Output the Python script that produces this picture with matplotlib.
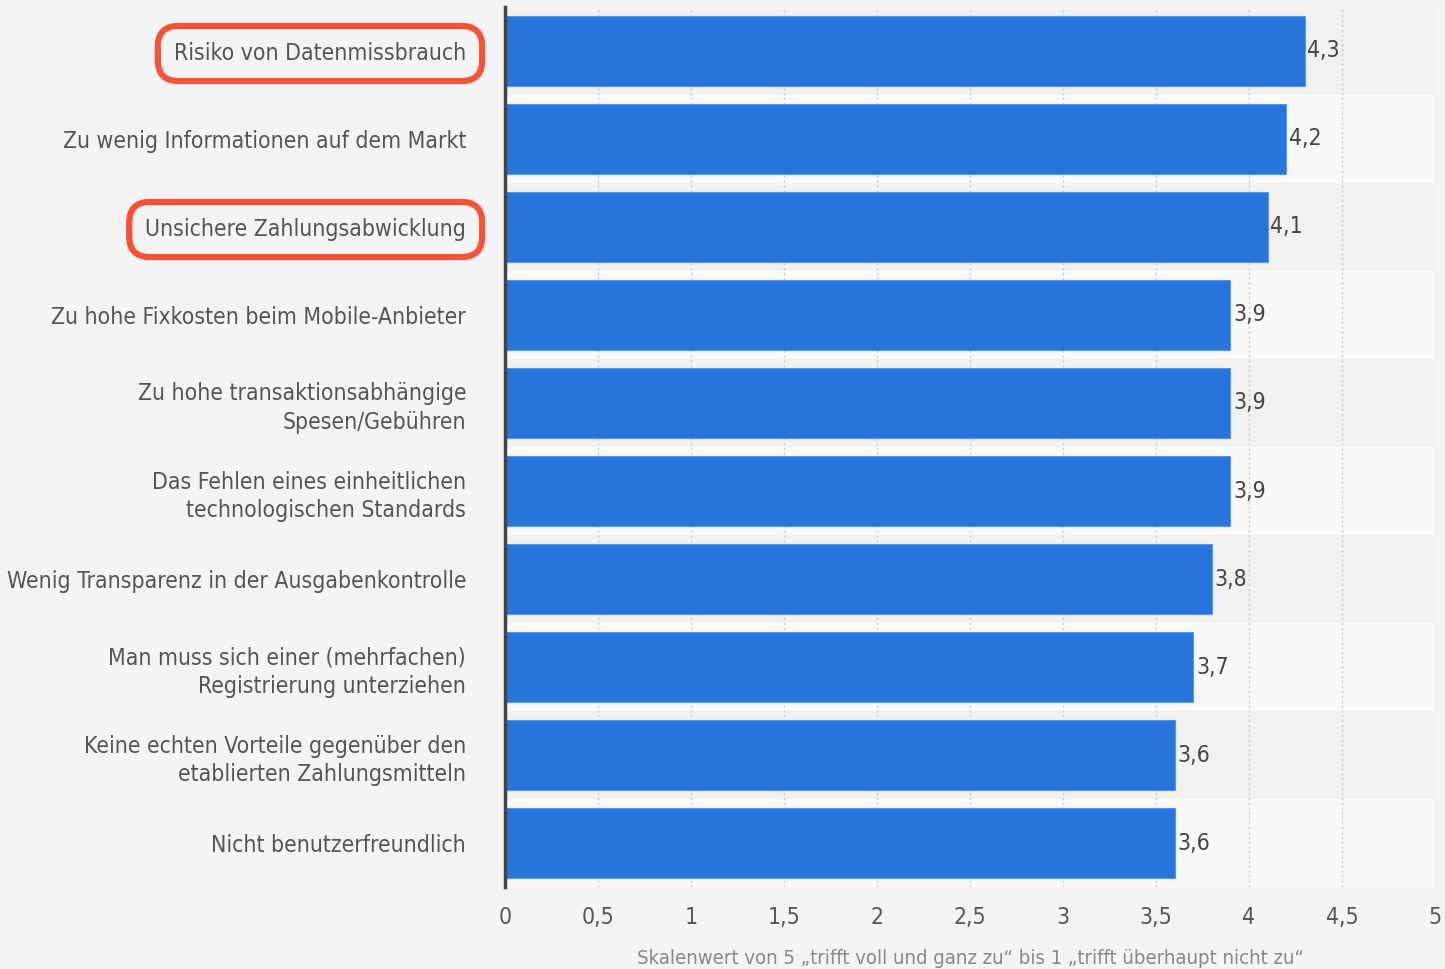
import matplotlib
matplotlib.use("Agg")
import matplotlib.pyplot as plt
import numpy as np

# data
categories = [
    "Risiko von Datenmissbrauch",
    "Zu wenig Informationen auf dem Markt",
    "Unsichere Zahlungsabwicklung",
    "Zu hohe Fixkosten beim Mobile-Anbieter",
    "Zu hohe transaktionsabhängige\nSpesen/Gebühren",
    "Das Fehlen eines einheitlichen\ntechnologischen Standards",
    "Wenig Transparenz in der Ausgabenkontrolle",
    "Man muss sich einer (mehrfachen)\nRegistrierung unterziehen",
    "Keine echten Vorteile gegenüber den\netablierten Zahlungsmitteln",
    "Nicht benutzerfreundlich",
]
values = [4.3, 4.2, 4.1, 3.9, 3.9, 3.9, 3.8, 3.7, 3.6, 3.6]
highlighted = [0, 2]
xticks = [0, 0.5, 1, 1.5, 2, 2.5, 3, 3.5, 4, 4.5, 5]
xlabel = "Skalenwert von 5 \u201etrifft voll und ganz zu\u201c bis 1 \u201etrifft überhaupt nicht zu\u201c"

plt.rcParams['font.family'] = ['DejaVu Sans']

bg = '#f4f4f4'
fig = plt.figure(figsize=(14.45, 9.69), dpi=100, facecolor=bg)
ax = fig.add_axes([0.3495, 0.0846, 0.6435, 0.9082])
ax.set_facecolor(bg)

n = len(values)
y = np.arange(n)

# alternating row bands
for i in range(n):
    col = '#f1f1f1' if i % 2 == 0 else '#f9f9f9'
    ax.axhspan(i - 0.5, i + 0.5, xmin=0, xmax=1, color=col, zorder=0, lw=0)

ax.barh(y, values, height=0.8, color='#2775db', edgecolor='#5b97e6', linewidth=0.8, zorder=3)

for yi, v in zip(y, values):
    ax.text(v + 0.015, yi, f"{v:.1f}".replace('.', ','), va='center', ha='left',
            fontsize=16.5, color='#444444', fontstretch='condensed', zorder=4)

ax.set_ylim(n - 0.5, -0.5)
ax.set_xlim(0, 5)
ax.set_xticks(xticks)
ax.set_xticklabels([str(t).replace('.', ',') for t in xticks], fontsize=16.5,
                   color='#555555', fontstretch='condensed')
ax.set_yticks(y)
ax.set_yticklabels(categories, fontsize=16.5, color='#555555',
                   fontstretch='condensed', linespacing=1.3)
ax.tick_params(axis='both', length=0)
ax.tick_params(axis='y', pad=28)
ax.tick_params(axis='x', pad=14)

for i, lab in enumerate(ax.get_yticklabels()):
    if i in highlighted:
        lab.set_bbox(dict(boxstyle='round,pad=0.7,rounding_size=0.9', fc='none',
                          ec='#fa5237', lw=4.5))

ax.xaxis.grid(True, linestyle=(0, (1.5, 2)), color='#cccccc', lw=1, zorder=1)
ax.set_axisbelow(True)
for s in ['top', 'right', 'bottom']:
    ax.spines[s].set_visible(False)
ax.spines['left'].set_color('#444444')
ax.spines['left'].set_linewidth(2.5)
ax.spines['left'].set_zorder(5)

ax.set_xlabel(xlabel, fontsize=14.6, color='#888888', labelpad=14, fontstretch='condensed')

fig.savefig('out.png', dpi=100, facecolor=bg)
